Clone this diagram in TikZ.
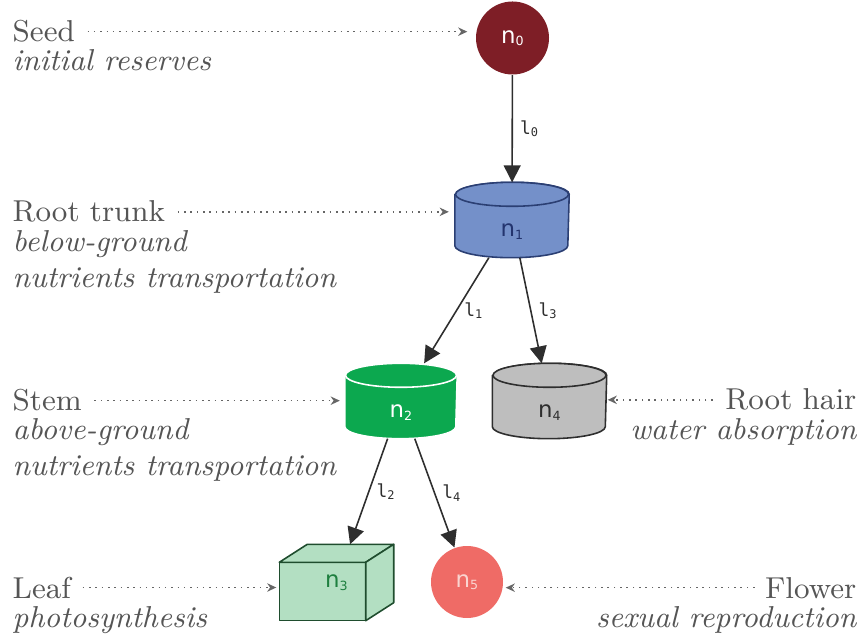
\documentclass[tikz,border=0pt]{standalone}
\usepackage{fontspec}
\usetikzlibrary{arrows.meta,backgrounds,calc}
\newfontfamily\nodefont{DejaVu Sans}
\newfontfamily\edgefont{DejaVu Sans Mono}

\definecolor{textgray}{HTML}{555555}
\definecolor{hintgray}{HTML}{666666}
\definecolor{edgegray}{HTML}{2E2E2E}
\definecolor{seedred}{HTML}{7E1E26}
\definecolor{trunkblue}{HTML}{7490C9}
\definecolor{trunkline}{HTML}{2B3F73}
\definecolor{trunktext}{HTML}{23346E}
\definecolor{stemgreen}{HTML}{0CA84F}
\definecolor{hairgray}{HTML}{BEBEBE}
\definecolor{leafgreen}{HTML}{B3DFC2}
\definecolor{leafline}{HTML}{1F4D2E}
\definecolor{leaftext}{HTML}{1E7F3F}
\definecolor{flowerred}{HTML}{EF6B66}
\definecolor{flowertext}{HTML}{FAD4D0}

\newcommand{\nsub}[2]{#1\raisebox{-0.7pt}{\fontsize{3.6}{4}\selectfont #2}}
\newcommand{\lsub}[1]{l\raisebox{-0.6pt}{\fontsize{3.4}{3.8}\selectfont #1}}

% Zylinder hinter einem Knoten: Knoten, halbe Breite, Stil
\newcommand{\tankbody}[3]{%
  \path[#3] ($(#1.north west)+(0,-0.12)$) -- ($(#1.south west)+(0,0.12)$)
    arc[start angle=180, end angle=360, x radius=#2, y radius=0.12]
    -- ($(#1.north east)+(0,-0.12)$)
    arc[start angle=0, end angle=180, x radius=#2, y radius=0.12] -- cycle;
  \path[#3] ($(#1.north)+(0,-0.12)$) ellipse[x radius=#2, y radius=0.12];
}

\begin{document}
\begin{tikzpicture}[
    title/.style={inner sep=0pt, text=textgray, font=\fontsize{8.6}{10}\selectfont},
    descr/.style={inner sep=0pt, text=textgray, font=\fontsize{8.6}{10}\selectfont\itshape},
    organ/.style={inner sep=0pt, font=\nodefont\fontsize{6.5}{7}\selectfont},
    tank/.style={organ, minimum width=1.13cm, minimum height=0.74cm,
      text height=0.34cm, text depth=0pt},
    ball/.style={organ, circle, minimum size=0.73cm},
    face/.style={line width=0.45pt, line join=round},
    link/.style={-{Triangle[length=4.8pt,width=4.8pt]}, line width=0.45pt, draw=edgegray},
    hint/.style={-{Stealth[length=2.6pt,width=2.4pt]}, draw=hintgray, line width=0.45pt,
      dash pattern=on 0.45pt off 1.35pt},
    elab/.style={right, inner sep=2pt, text=edgegray, font=\edgefont\fontsize{5.1}{5.5}\selectfont}
  ]
  \useasboundingbox (0,0) rectangle (8.61,-6.39);

  % Organe
  \node[ball, fill=seedred, text=white] (n0) at (5.125,-0.38) {\nsub{n}{0}};
  \node[tank, text=trunktext] (n1) at (5.12,-2.20) {\nsub{n}{1}};
  \node[tank, text=white, minimum width=1.11cm] (n2) at (4.01,-4.01) {\nsub{n}{2}};
  \node[tank, text=edgegray] (n4) at (5.495,-4.01) {\nsub{n}{4}};
  \node[organ, minimum width=1.13cm, minimum height=0.75cm, text=leaftext] (n3) at (3.365,-5.825) {\nsub{n}{3}};
  \node[ball, fill=flowerred, text=flowertext, minimum size=0.72cm] (n5) at (4.67,-5.82) {\nsub{n}{5}};

  \begin{pgfonlayer}{background}
    \tankbody{n1}{0.565}{face, fill=trunkblue, draw=trunkline}
    \tankbody{n2}{0.555}{face, fill=stemgreen, draw=white}
    \tankbody{n4}{0.565}{face, fill=hairgray, draw=edgegray}
    % Quader
    \path[face, fill=leafgreen, draw=leafline] (n3.south west) rectangle ($(n3.north east)+(-0.28,-0.18)$);
    \path[face, fill=leafgreen, draw=leafline] ($(n3.north west)+(0,-0.18)$) -- ($(n3.north west)+(0.28,0)$)
      -- (n3.north east) -- ($(n3.north east)+(-0.28,-0.18)$) -- cycle;
    \path[face, fill=leafgreen, draw=leafline] ($(n3.north east)+(-0.28,-0.18)$) -- (n3.north east)
      -- ($(n3.south east)+(0,0.18)$) -- ($(n3.south east)+(-0.28,0)$) -- cycle;
  \end{pgfonlayer}

  % Kanten
  \draw[link] (n0) -- node[elab] {\lsub{0}} (n1);
  \draw[link] (n1) -- node[elab] {\lsub{1}} (n2);
  \draw[link] (n1) -- node[elab] {\lsub{3}} (n4);
  \draw[link] (n2) -- node[elab] {\lsub{2}} (n3);
  \draw[link] (n2) -- node[elab] {\lsub{4}} (n5);

  % Beschriftung links
  \node[title, anchor=base west] (seedT) at (0.12,-0.42) {Seed};
  \node[descr, anchor=base west] (seedD) at (0.12,-0.705) {initial reserves};
  \node[title, anchor=base west] (trunkT) at (0.12,-2.22) {Root trunk};
  \node[descr, anchor=base west] (trunkD) at (0.12,-2.52) {below-ground};
  \node[descr, anchor=base west] (trunkE) at (0.12,-2.88) {nutrients transportation};
  \node[title, anchor=base west] (stemT) at (0.12,-4.11) {Stem};
  \node[descr, anchor=base west] (stemD) at (0.12,-4.40) {above-ground};
  \node[descr, anchor=base west] (stemE) at (0.12,-4.76) {nutrients transportation};
  \node[title, anchor=base west] (leafT) at (0.12,-5.98) {Leaf};
  \node[descr, anchor=base west] (leafD) at (0.12,-6.27) {photosynthesis};

  % Beschriftung rechts
  \node[title, anchor=base east] (hairT) at (8.57,-4.10) {Root hair};
  \node[descr, anchor=base east] (hairD) at (8.57,-4.40) {water absorption};
  \node[title, anchor=base east] (flowerT) at (8.57,-5.98) {Flower};
  \node[descr, anchor=base east] (flowerD) at (8.57,-6.27) {sexual reproduction};

  % Hinweise
  \draw[hint, shorten <=0.12cm, shorten >=0.08cm] (seedT.east) -- (seedT -| n0.west);
  \draw[hint, shorten <=0.12cm, shorten >=0.06cm] (trunkT.east) -- (trunkT -| n1.west);
  \draw[hint, shorten <=0.12cm, shorten >=0.05cm] (stemT.east) -- (stemT -| n2.west);
  \draw[hint, shorten <=0.11cm, shorten >=0.03cm] (leafT.east) -- (leafT -| n3.west);
  \draw[hint, shorten <=0.12cm, shorten >=0.01cm] (hairT.west) -- (hairT -| n4.east);
  \draw[hint, shorten <=0.10cm, shorten >=0.02cm] (flowerT.west) -- (flowerT -| n5.east);
\end{tikzpicture}
\end{document}
